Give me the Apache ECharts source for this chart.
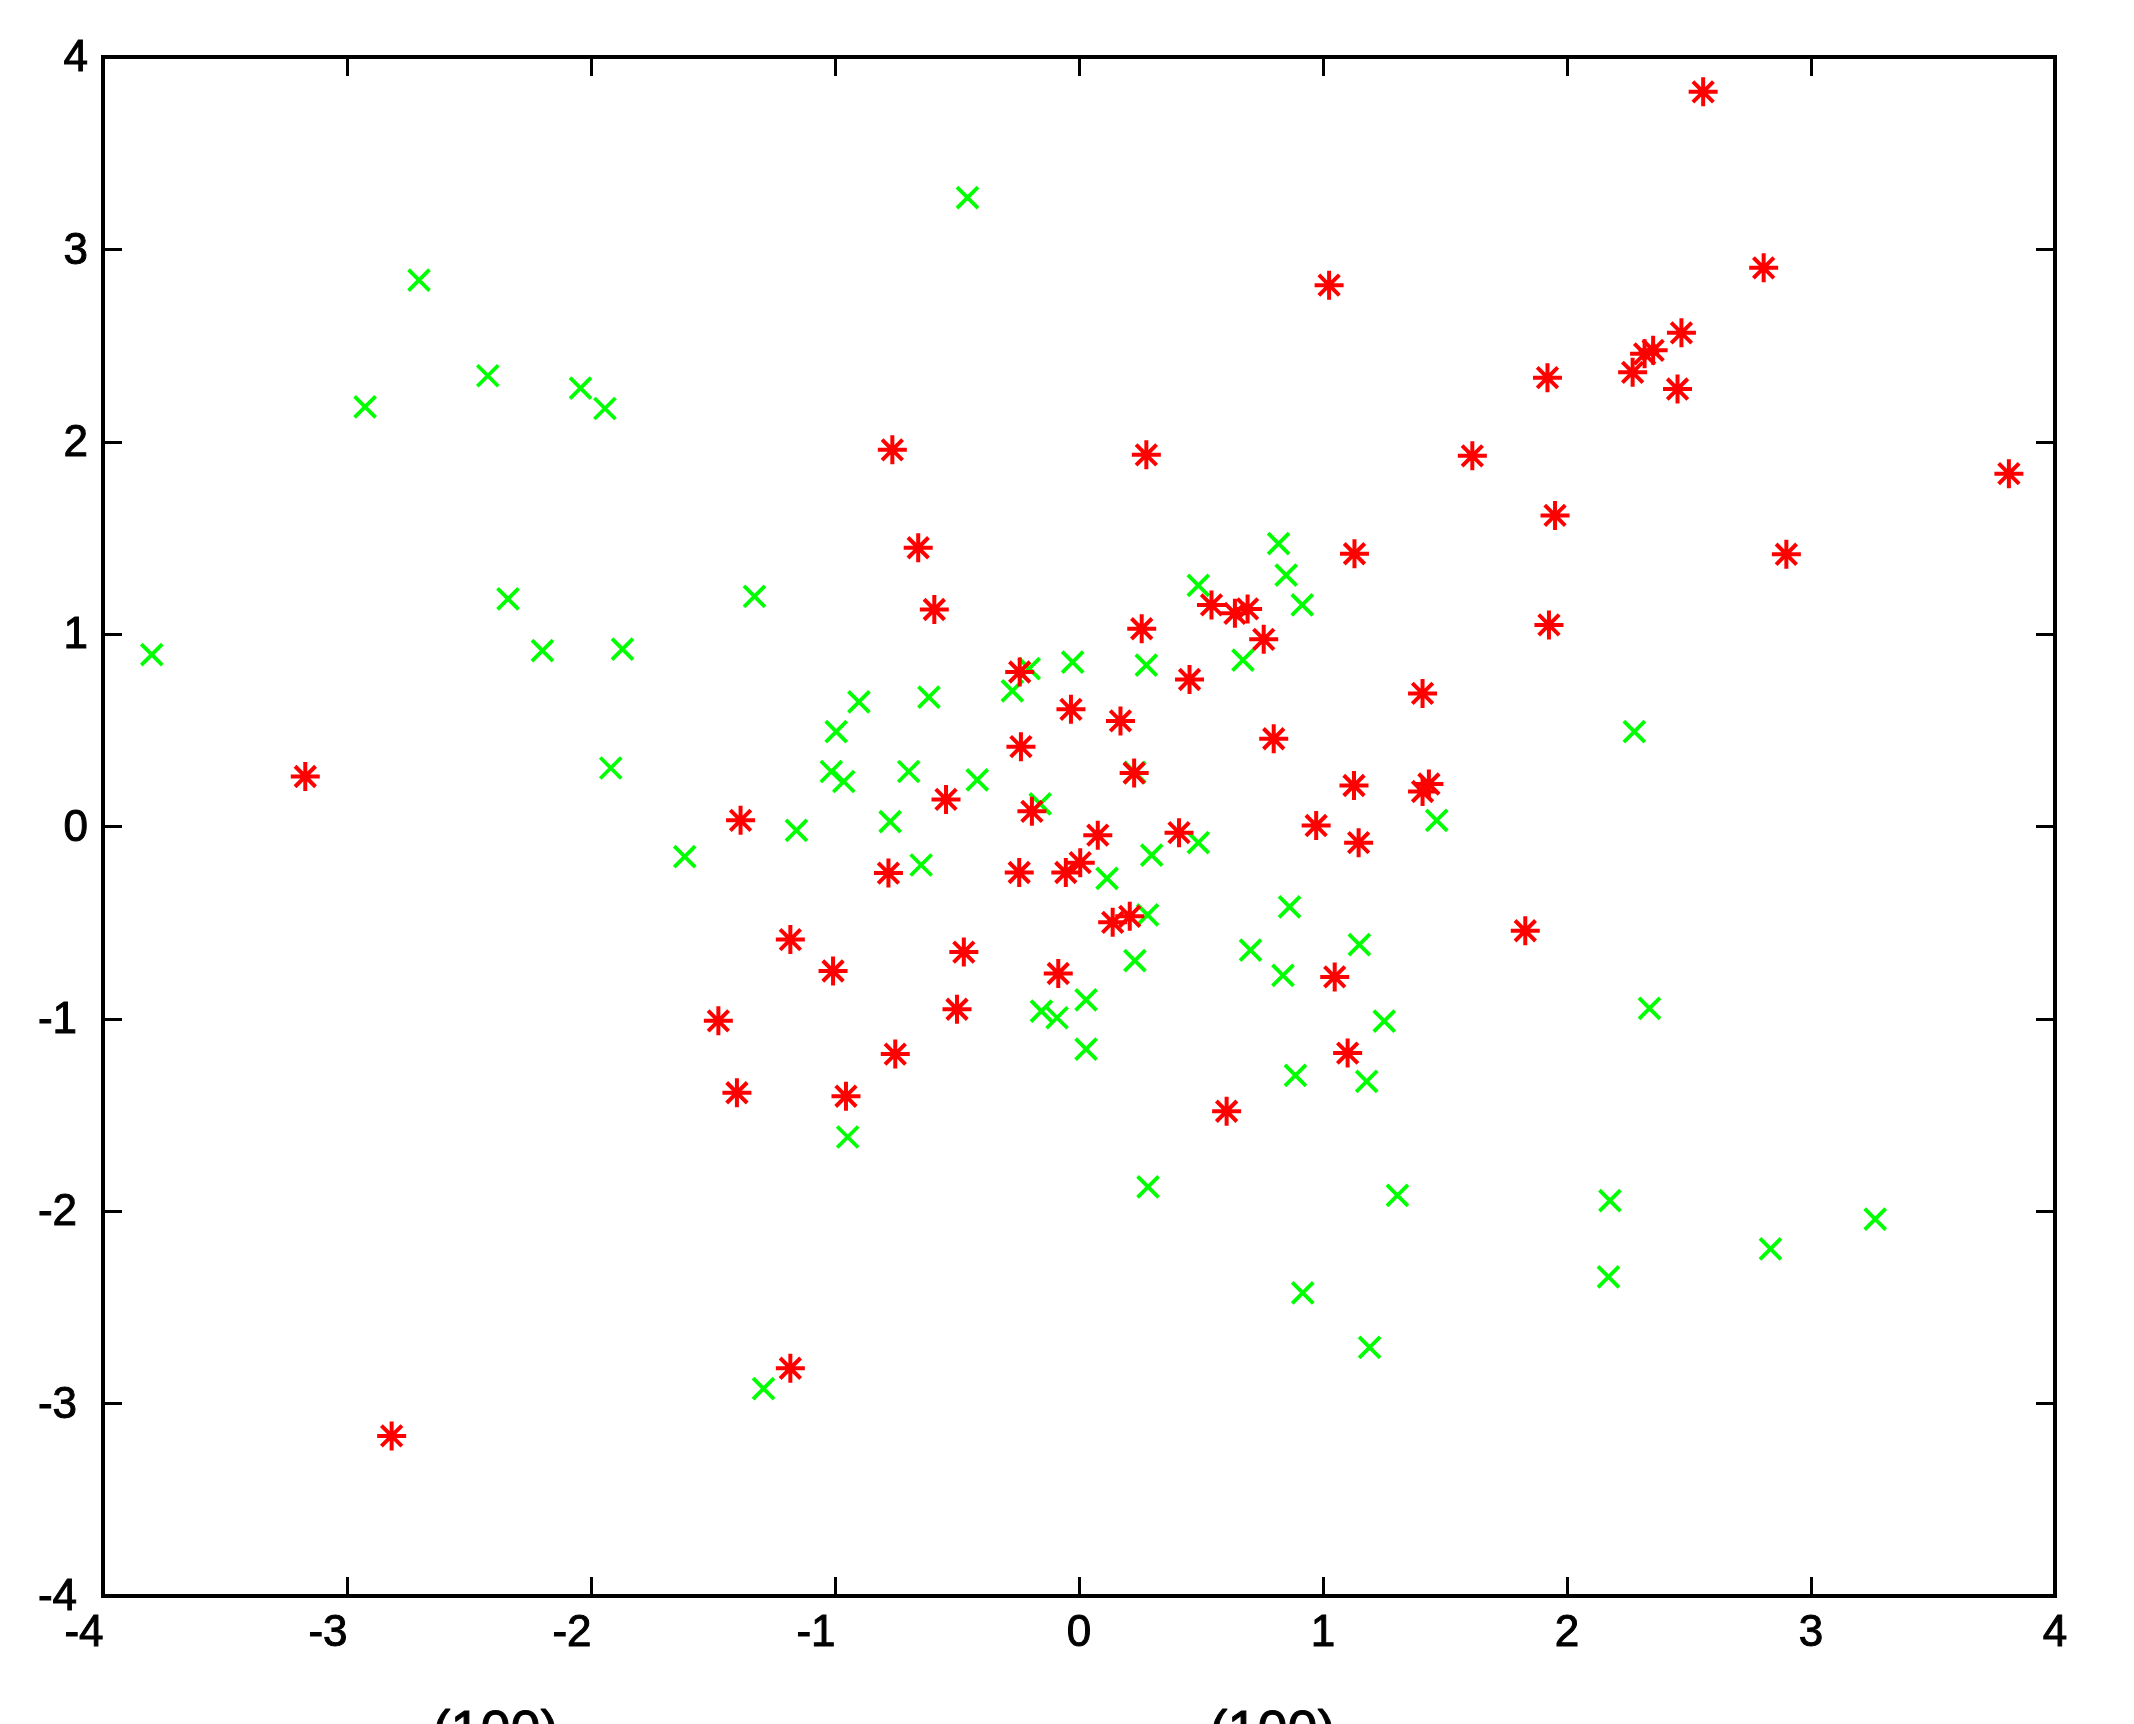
<!DOCTYPE html>
<html>
<head>
<meta charset="utf-8">
<style>
  html, body { margin: 0; padding: 0; background: #fff; }
  #chart { width: 2134px; height: 1724px; }
</style>
<script src="https://cdn.jsdelivr.net/npm/echarts@6/dist/echarts.min.js"></script>
</head>
<body>
<div id="chart"></div>
<script>
// Tick labels
const xTicks = [-4, -3, -2, -1, 0, 1, 2, 3, 4];
const yTicks = [-4, -3, -2, -1, 0, 1, 2, 3, 4];
const bottomTexts = ['(100)', '(100)'];

// Green "x" markers
const greenX = [-3.800, -2.926, -2.705, -2.423, -2.043, -1.943, -2.340, -2.199, -1.871, -1.919,
  -1.330, -1.616, -1.158, -1.293, -0.948, -0.995, -0.902, -1.015, -0.964, -0.774,
  -0.698, -0.647, -0.615, -0.417, -0.457, -0.273, -0.204, -0.159, -0.026, -0.154,
  -0.090, 0.029, 0.029, 0.115, 0.229, 0.281, 0.298, 0.276, 0.229, 0.283,
  0.489, 0.489, 0.672, 0.703, 0.818, 0.849, 0.915, 0.863, 0.836, 0.887,
  0.917, 1.149, 1.251, 1.179, 1.305, 1.191, 1.466, 2.276, 2.338, 2.176,
  2.170, 2.834, 3.263];
const greenY = [0.893, 2.181, 2.840, 2.343, 2.279, 2.173, 1.183, 0.914, 0.922, 0.304,
  1.196, -0.157, -0.020, -2.922, -1.614, 0.493, 0.648, 0.286, 0.234, 0.025,
  0.286, -0.200, 0.673, 0.242, 3.269, 0.705, 0.821, 0.118, 0.854, -0.960,
  -0.994, -0.901, -1.157, -0.270, -0.697, -0.459, -0.149, 0.839, 0.281, -1.873,
  1.253, -0.084, 0.865, -0.643, 1.470, 1.307, 1.152, -0.418, -0.774, -1.294,
  -2.424, -0.614, -1.012, -1.325, -1.917, -2.708, 0.032, 0.493, -0.945, -1.945,
  -2.341, -2.196, -2.041];

// Red "*" markers
const redX = [-3.171, -2.817, -1.387, -1.478, -1.402, -1.183, -1.183, -1.008, -0.955, -0.781,
  -0.765, -0.753, -0.659, -0.593, -0.545, -0.472, -0.500, -0.243, -0.238, -0.193,
  -0.245, -0.085, -0.054, 0.005, -0.033, 0.077, 0.170, 0.138, 0.208, 0.226,
  0.257, 0.276, 0.410, 0.453, 0.543, 0.639, 0.691, 0.757, 0.798, 0.605,
  0.972, 1.025, 1.129, 1.127, 1.146, 1.048, 1.101, 1.408, 1.434, 1.408,
  1.612, 1.829, 1.920, 1.926, 1.951, 2.269, 2.318, 2.353, 2.453, 2.469,
  2.558, 2.806, 2.899, 3.811];
const redY = [0.260, -3.168, 0.032, -1.010, -1.384, -0.588, -2.816, -0.751, -1.402, -0.242,
  1.958, -1.183, 1.449, 1.128, 0.141, -0.653, -0.950, 0.803, 0.415, 0.079,
  -0.239, -0.764, -0.239, -0.188, 0.609, -0.045, 0.549, -0.498, -0.467, 0.278,
  1.028, 1.932, -0.032, 0.764, 1.152, 1.108, 1.131, 0.973, 0.456, -1.480,
  0.005, 2.814, 1.418, 0.213, -0.084, -0.782, -1.178, 0.692, 0.221, 0.182,
  1.927, -0.542, 2.333, 1.048, 1.617, 2.361, 2.457, 2.475, 2.274, 2.566,
  3.819, 2.904, 1.415, 1.834];

const FONT = '"Liberation Sans", Arial, Helvetica, sans-serif';
const greenData = greenX.map((x, i) => [x, greenY[i]]);
const redData = redX.map((x, i) => [x, redY[i]]);

const chart = echarts.init(document.getElementById('chart'), null, { renderer: 'canvas' });

const lineStyle = { color: '#000', width: 4, cap: 'square' };
const tickStyle = { color: '#000', width: 3 };

function xFmt(v) { return (v < 0 ? '{n|' : '{p|') + v + '}'; }
function yFmt(v) { return (v < 0 ? '{n|' : '{p|') + v + '}'; }
const labelBase = { fontSize: 44, fontFamily: FONT, color: '#000', textBorderColor: '#000', textBorderWidth: 1 };

const option = {
  backgroundColor: '#fff',
  animation: false,
  grid: { left: 103, right: 79, top: 57, bottom: 128, containLabel: false },
  xAxis: [
    {
      type: 'value', position: 'bottom', min: xTicks[0], max: xTicks[xTicks.length - 1], interval: 1,
      axisLine: { show: true, onZero: false, lineStyle: lineStyle },
      axisTick: { show: true, inside: true, length: 19, lineStyle: tickStyle },
      splitLine: { show: false },
      axisLabel: Object.assign({}, labelBase, {
        margin: 16, formatter: xFmt,
        rich: { n: Object.assign({ padding: [0, 38, 0, 0] }, labelBase), p: Object.assign({}, labelBase) }
      })
    },
    {
      type: 'value', position: 'top', min: xTicks[0], max: xTicks[xTicks.length - 1], interval: 1,
      axisLine: { show: true, onZero: false, lineStyle: lineStyle },
      axisTick: { show: true, inside: true, length: 19, lineStyle: tickStyle },
      splitLine: { show: false },
      axisLabel: { show: false }
    }
  ],
  yAxis: [
    {
      type: 'value', position: 'left', min: yTicks[0], max: yTicks[yTicks.length - 1], interval: 1,
      axisLine: { show: true, onZero: false, lineStyle: lineStyle },
      axisTick: { show: true, inside: true, length: 19, lineStyle: tickStyle },
      splitLine: { show: false },
      axisLabel: Object.assign({}, labelBase, {
        margin: 15, formatter: yFmt,
        rich: { n: Object.assign({ padding: [4, 11, 0, 0] }, labelBase), p: Object.assign({ padding: [4, 0, 0, 0] }, labelBase) }
      })
    },
    {
      type: 'value', position: 'right', min: yTicks[0], max: yTicks[yTicks.length - 1], interval: 1,
      axisLine: { show: true, onZero: false, lineStyle: lineStyle },
      axisTick: { show: true, inside: true, length: 19, lineStyle: tickStyle },
      splitLine: { show: false },
      axisLabel: { show: false }
    }
  ],
  graphic: [
    { type: 'text', left: 432, top: 1706, silent: true,
      style: { text: bottomTexts[0], font: '54px ' + FONT, fill: '#000', stroke: '#000', lineWidth: 1 } },
    { type: 'text', left: 1209, top: 1706, silent: true,
      style: { text: bottomTexts[1], font: '54px ' + FONT, fill: '#000', stroke: '#000', lineWidth: 1 } }
  ],
  series: [
    {
      type: 'scatter', xAxisIndex: 0, yAxisIndex: 0, data: greenData,
      symbol: 'path://M0,0L2,2M2,0L0,2', symbolSize: 21,
      itemStyle: { color: 'rgba(0,0,0,0)', borderColor: '#00ff00', borderWidth: 3.8, opacity: 1 },
      emphasis: { disabled: true }, silent: true
    },
    {
      type: 'scatter', xAxisIndex: 0, yAxisIndex: 0, data: redData,
      symbol: 'path://M1,0L1,2M0,1L2,1M0.293,0.293L1.707,1.707M0.293,1.707L1.707,0.293', symbolSize: 29,
      itemStyle: { color: 'rgba(0,0,0,0)', borderColor: '#ff0000', borderWidth: 4, opacity: 1 },
      emphasis: { disabled: true }, silent: true
    }
  ]
};
chart.setOption(option);
</script>
</body>
</html>
